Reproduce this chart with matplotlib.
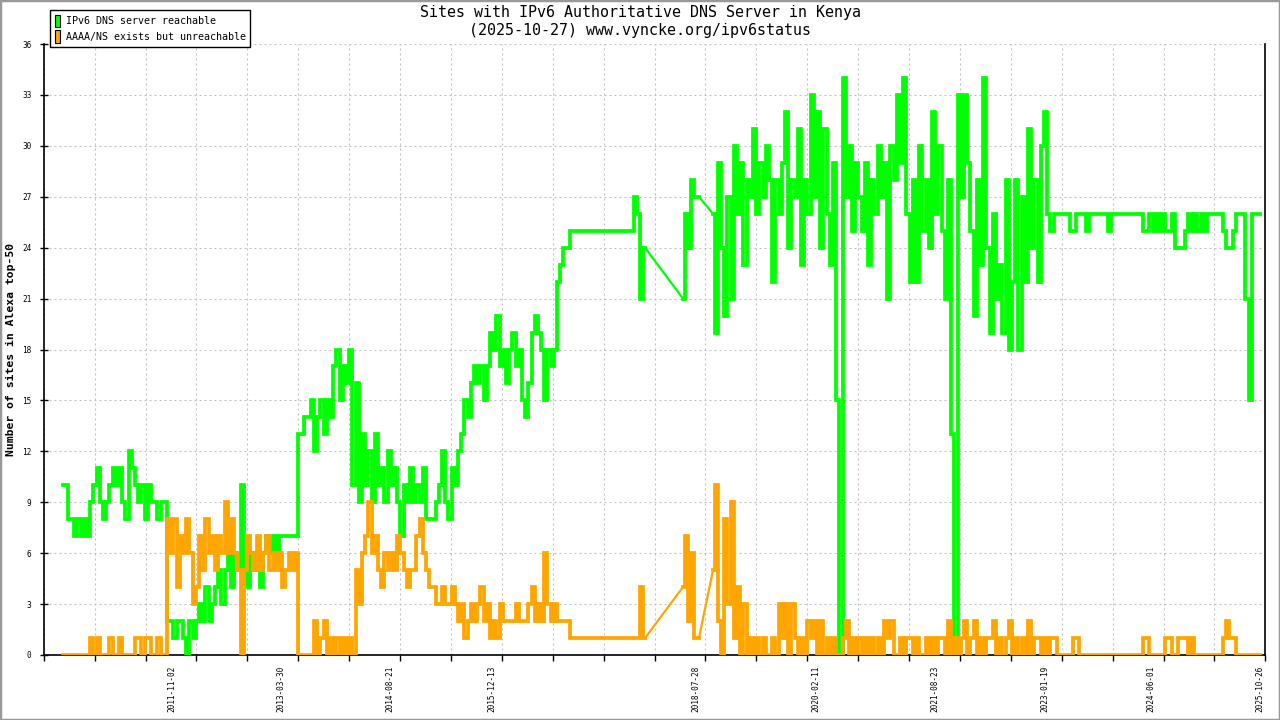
import numpy as np
import pandas as pd
import matplotlib
matplotlib.use("Agg")
import matplotlib.pyplot as plt
import matplotlib.dates as mdates
from matplotlib.patches import Patch, Rectangle

plt.rcParams['font.family'] = ['DejaVu Sans Mono']

# --- data (15-day samples, three segments around data gaps) ---
start_a = '2010-06-12'
green_a = [10, 10, 8, 8, 7, 8, 7, 8, 7, 9,
           10, 11, 9, 8, 9, 10, 11, 10, 11, 9,
           8, 12, 11, 10, 9, 10, 8, 10, 9, 9,
           8, 9, 9, 2, 2, 1, 2, 2, 1, 0,
           2, 1, 2, 3, 2, 4, 2, 3, 4, 5,
           3, 5, 6, 4, 6, 5, 10, 5, 4, 6,
           5, 6, 4, 6, 7, 6, 7, 6, 7, 7,
           7, 7, 7, 7, 13, 13, 14, 14, 15, 12,
           14, 15, 13, 15, 14, 17, 18, 15, 17, 16,
           18, 10, 16, 9, 13, 10, 12, 9, 13, 10,
           11, 9, 12, 10, 11, 9, 7, 10, 9, 11,
           9, 10, 9, 11, 8, 8, 8, 9, 10, 12,
           9, 8, 11, 10, 12, 13, 15, 14, 16, 17,
           16, 17, 15, 17, 19, 18, 20, 17, 18, 16,
           18, 19, 17, 18, 15, 14, 16, 19, 20, 19,
           18, 15, 18, 17, 18, 22, 23, 24, 24, 25,
           25, 25, 25, 25, 25, 25, 25, 25, 25, 25,
           25, 25, 25, 25, 25, 25, 25, 25, 25, 27,
           26, 21, 24]
orange_a = [0, 0, 0, 0, 0, 0, 0, 0, 0, 1,
            0, 1, 0, 0, 0, 1, 0, 0, 1, 0,
            0, 0, 0, 1, 1, 0, 1, 1, 0, 0,
            1, 0, 0, 8, 6, 8, 4, 7, 6, 8,
            6, 3, 4, 7, 5, 8, 6, 7, 5, 7,
            6, 9, 6, 8, 6, 5, 0, 5, 7, 6,
            5, 7, 5, 6, 7, 5, 6, 5, 6, 4,
            5, 6, 5, 6, 0, 0, 0, 0, 0, 2,
            0, 1, 2, 0, 1, 0, 1, 0, 1, 0,
            1, 0, 5, 3, 6, 7, 9, 6, 7, 5,
            4, 6, 5, 6, 5, 7, 6, 5, 4, 5,
            5, 7, 8, 6, 5, 4, 4, 3, 3, 4,
            3, 3, 4, 3, 2, 3, 1, 2, 3, 2,
            3, 4, 2, 3, 1, 2, 1, 3, 2, 2,
            2, 2, 3, 2, 2, 2, 3, 4, 2, 3,
            2, 6, 3, 2, 3, 2, 2, 2, 2, 1,
            1, 1, 1, 1, 1, 1, 1, 1, 1, 1,
            1, 1, 1, 1, 1, 1, 1, 1, 1, 1,
            1, 4, 1]

start_b = '2018-05-29'
green_b = [21, 26, 24, 28, 27, 27]
orange_b = [4, 7, 2, 6, 1, 1]

start_c = '2018-10-17'
green_c = [26, 19, 29, 24, 20, 27, 21, 30, 26, 29,
           23, 28, 27, 31, 26, 29, 27, 30, 28, 22,
           28, 26, 29, 32, 24, 28, 27, 31, 23, 28,
           26, 33, 27, 32, 24, 31, 26, 23, 29, 15,
           0, 34, 27, 30, 25, 29, 27, 25, 29, 23,
           28, 26, 30, 27, 29, 21, 30, 28, 33, 29,
           34, 26, 22, 28, 22, 30, 25, 28, 24, 32,
           26, 30, 25, 21, 28, 13, 0, 33, 27, 33,
           29, 25, 20, 28, 23, 34, 24, 19, 26, 21,
           23, 19, 28, 18, 22, 28, 18, 27, 22, 31,
           24, 28, 22, 30, 32, 26, 25, 26, 26, 26,
           26, 26, 25, 25, 26, 26, 26, 25, 26, 26,
           26, 26, 26, 26, 25, 26, 26, 26, 26, 26,
           26, 26, 26, 26, 26, 25, 25, 26, 25, 26,
           25, 26, 25, 25, 26, 24, 24, 24, 25, 26,
           25, 26, 25, 26, 25, 26, 26, 26, 26, 26,
           25, 24, 24, 25, 26, 26, 26, 21, 15, 26,
           26, 26]
orange_c = [5, 10, 2, 0, 8, 3, 9, 1, 4, 0,
            3, 0, 1, 0, 1, 0, 1, 0, 0, 1,
            0, 3, 1, 3, 0, 3, 1, 0, 1, 0,
            2, 1, 2, 0, 2, 0, 1, 0, 1, 0,
            0, 1, 2, 0, 1, 0, 1, 0, 1, 0,
            1, 0, 1, 0, 2, 1, 2, 0, 0, 1,
            0, 1, 1, 0, 1, 0, 0, 1, 0, 1,
            0, 1, 1, 0, 2, 0, 1, 0, 1, 2,
            0, 1, 2, 0, 1, 0, 1, 1, 2, 0,
            1, 0, 1, 2, 0, 1, 0, 1, 0, 2,
            0, 1, 1, 0, 1, 0, 1, 1, 0, 0,
            0, 0, 0, 1, 1, 0, 0, 0, 0, 0,
            0, 0, 0, 0, 0, 0, 0, 0, 0, 0,
            0, 0, 0, 0, 0, 1, 1, 0, 0, 0,
            0, 0, 1, 1, 0, 0, 1, 1, 1, 0,
            1, 0, 0, 0, 0, 0, 0, 0, 0, 0,
            1, 2, 1, 1, 0, 0, 0, 0, 0, 0,
            0, 0]

label_dates = ['2011-11-02', '2013-03-30', '2014-08-21', '2015-12-13', '2018-07-28',
               '2020-02-11', '2021-08-23', '2023-01-19', '2024-06-01', '2025-10-26']
x_start, x_end = '2010-03-13', '2025-11-20'
y_ticks = list(range(0, 37, 3))

GREEN = '#00ff00'
ORANGE = '#ffa500'

segments = []
for start, g, o in [(start_a, green_a, orange_a), (start_b, green_b, orange_b),
                    (start_c, green_c, orange_c)]:
    d = mdates.date2num(pd.date_range(start, periods=len(g), freq='15D'))
    segments.append((d, np.array(g), np.array(o)))

fig = plt.figure(figsize=(12.8, 7.2), dpi=100)
ax = fig.add_axes([43.7 / 1280, 65 / 720, 1221.6 / 1280, 611 / 720])


def draw_series(idx, color, z):
    # daily-style steps inside each segment, straight line across the gaps
    for k, seg in enumerate(segments):
        ax.plot(seg[0], seg[idx], color=color, lw=2.7, drawstyle='steps-mid',
                solid_joinstyle='miter', zorder=z)
        if k + 1 < len(segments):
            nxt = segments[k + 1]
            ax.plot([seg[0][-1], nxt[0][0]], [seg[idx][-1], nxt[idx][0]],
                    color=color, lw=1.6, zorder=z)


draw_series(1, GREEN, 3)
draw_series(2, ORANGE, 4)

# axes / ticks
x0 = mdates.date2num(pd.Timestamp(x_start))
x1 = mdates.date2num(pd.Timestamp(x_end))
ax.set_xlim(x0, x1)
ax.set_ylim(0, 36)
ax.set_xticks(np.linspace(x0, x1, 25))
ax.set_xticklabels([])
ax.set_xticks(mdates.date2num(pd.to_datetime(label_dates)), minor=True)
ax.set_xticklabels(label_dates, minor=True, rotation=90, fontsize=5.6)
ax.tick_params(axis='x', which='major', direction='out', length=4.5, width=1)
ax.tick_params(axis='x', which='minor', length=0, pad=8)
ax.set_yticks(y_ticks)
ax.set_yticklabels([str(v) for v in y_ticks], fontsize=5.6)
ax.tick_params(axis='y', direction='inout', length=6, width=1, pad=6)

ax.grid(True, which='major', color='#c0c0c0', linestyle=(0, (1.8, 2.7)), lw=0.8)
ax.spines['top'].set_visible(False)
for s in ('left', 'bottom', 'right'):
    ax.spines[s].set_linewidth(1.2)

# titles and axis label
fig.text(0.5, 1 - 13 / 720, 'Sites with IPv6 Authoritative DNS Server in Kenya',
         ha='center', va='center', fontsize=10.8)
fig.text(0.5, 1 - 31 / 720, '(2025-10-27) www.vyncke.org/ipv6status',
         ha='center', va='center', fontsize=10.8)
fig.text(11 / 1280, 1 - 349 / 720, 'Number of sites in Alexa top-50', rotation=90,
         ha='center', va='center', fontsize=8.2, fontweight='bold')

handles = [Patch(facecolor=GREEN, edgecolor='black', lw=0.8),
           Patch(facecolor=ORANGE, edgecolor='black', lw=0.8)]
leg = fig.legend(handles, ['IPv6 DNS server reachable', 'AAAA/NS exists but unreachable'],
                 loc='upper left', bbox_to_anchor=(50 / 1280, 1 - 10 / 720),
                 bbox_transform=fig.transFigure, fontsize=7.2, fancybox=False,
                 edgecolor='black', framealpha=1, handlelength=0.5, handleheight=1.6,
                 handletextpad=0.6, borderpad=0.45, labelspacing=0.25, borderaxespad=0)
leg.get_frame().set_linewidth(1.0)
leg.set_zorder(10)

# outer grey frame
fig.patches.append(Rectangle((0, 0), 1, 1, transform=fig.transFigure, fill=False,
                             edgecolor='#999999', lw=2.5))

fig.savefig('out.png', dpi=100)
